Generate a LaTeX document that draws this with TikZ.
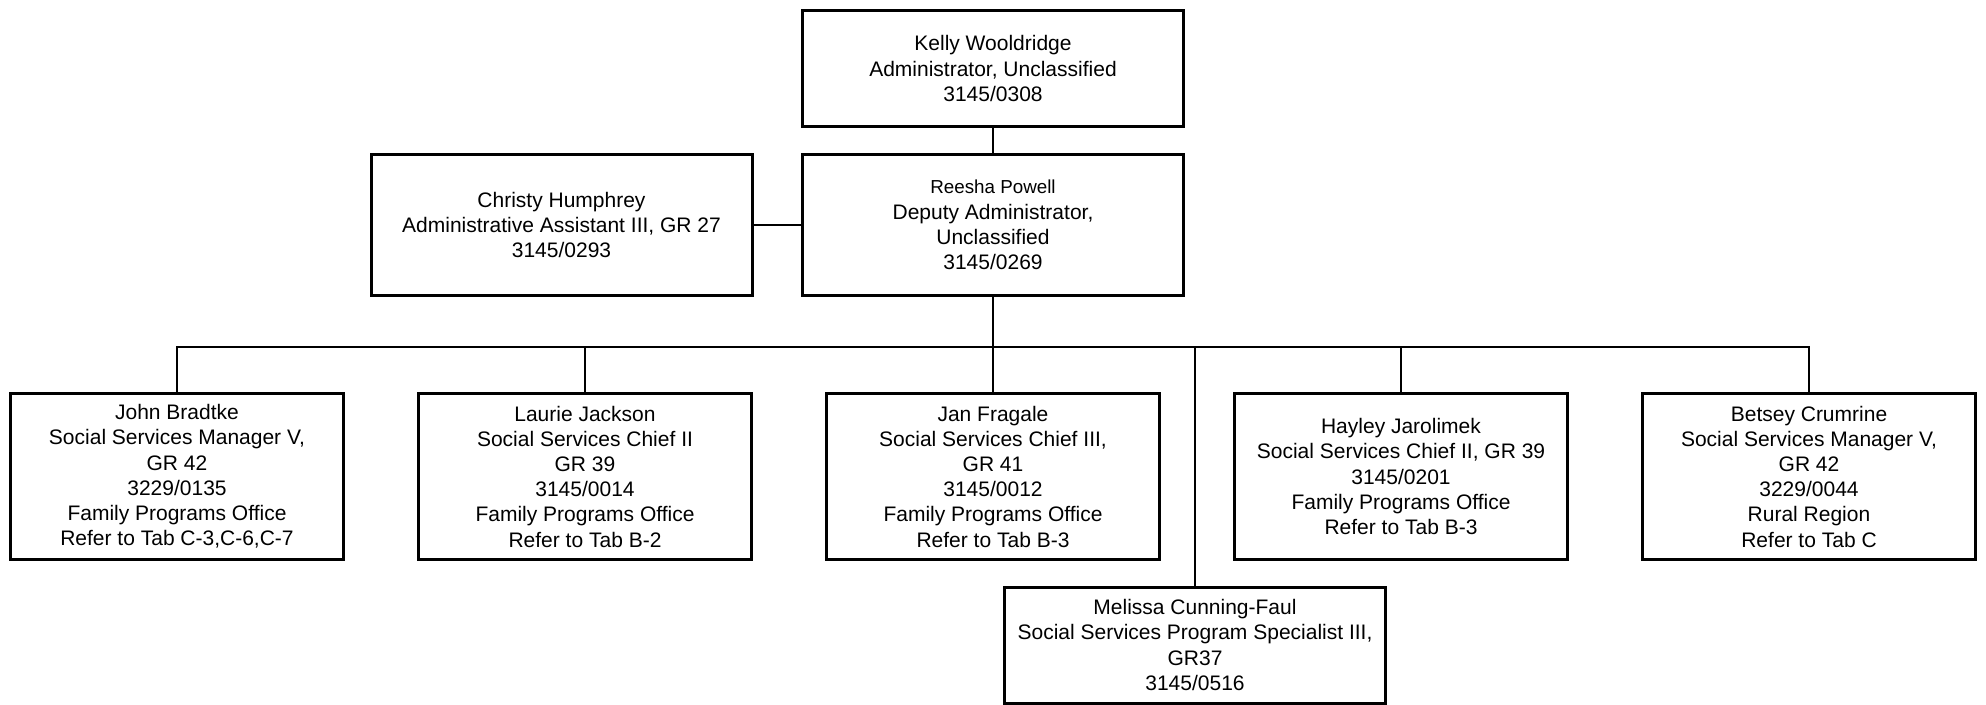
\documentclass[tikz,border=0pt]{standalone}
\usepackage{fontspec}
\setmainfont{Liberation Sans}
\begin{document}
\begin{tikzpicture}
[x=0.5pt,y=-0.5pt,
 posbox/.style={draw,line width=1.5pt,align=center,inner sep=0pt,
   font=\fontsize{10.5}{12.6}\selectfont},
 headbox/.style={posbox,minimum width=190.5pt,minimum height=58pt},
 deputybox/.style={posbox,minimum width=190.5pt,minimum height=70.5pt},
 staffbox/.style={posbox,minimum width=166.5pt,minimum height=83pt},
 linkline/.style={line width=0.85pt}]
\useasboundingbox (0,0) rectangle (1986,705);
%% top of the chart
\node[headbox] (kelly) at (993,68.5)
  {Kelly Wooldridge\\Administrator, Unclassified\\3145/0308};
\node[deputybox] (reesha) at (993,225)
  {{\fontsize{9.4}{12.6}\selectfont Reesha Powell}\\Deputy Administrator,\\Unclassified\\3145/0269};
\node[deputybox] (christy) at (561.5,225)
  {Christy Humphrey\\Administrative Assistant III, GR 27\\3145/0293};
%% the row of managers
\foreach \name/\x/\txt in {
  john/177/{John Bradtke\\Social Services Manager V,\\GR 42\\3229/0135\\Family Programs Office\\Refer to Tab C-3,C-6,C-7},
  laurie/585/{Laurie Jackson\\Social Services Chief II\\GR 39\\3145/0014\\Family Programs Office\\Refer to Tab B-2},
  jan/993/{Jan Fragale\\Social Services Chief III,\\GR 41\\3145/0012\\Family Programs Office\\Refer to Tab B-3},
  hayley/1401/{Hayley Jarolimek\\Social Services Chief II, GR 39\\3145/0201\\Family Programs Office\\Refer to Tab B-3},
  betsey/1809/{Betsey Crumrine\\Social Services Manager V,\\GR 42\\3229/0044\\Rural Region\\Refer to Tab C}}
{
  \node[staffbox] (\name) at (\x,476.5) {\txt};
}
\node[headbox] (melissa) at (1195,645)
  {Melissa Cunning-Faul\\Social Services Program Specialist III,\\GR37\\3145/0516};
%% connectors
\coordinate (bus) at (993,347);
\draw[linkline] (kelly) -- (reesha);
\draw[linkline] (christy) -- (reesha);
\draw[linkline] (reesha) -- (jan);
\draw[linkline] (john.north) -- (john.north |- bus) -- (betsey.north |- bus) -- (betsey.north);
\foreach \name in {laurie, hayley, melissa}
{
  \draw[linkline] (\name.north) -- (\name.north |- bus);
}
\end{tikzpicture}
\end{document}
